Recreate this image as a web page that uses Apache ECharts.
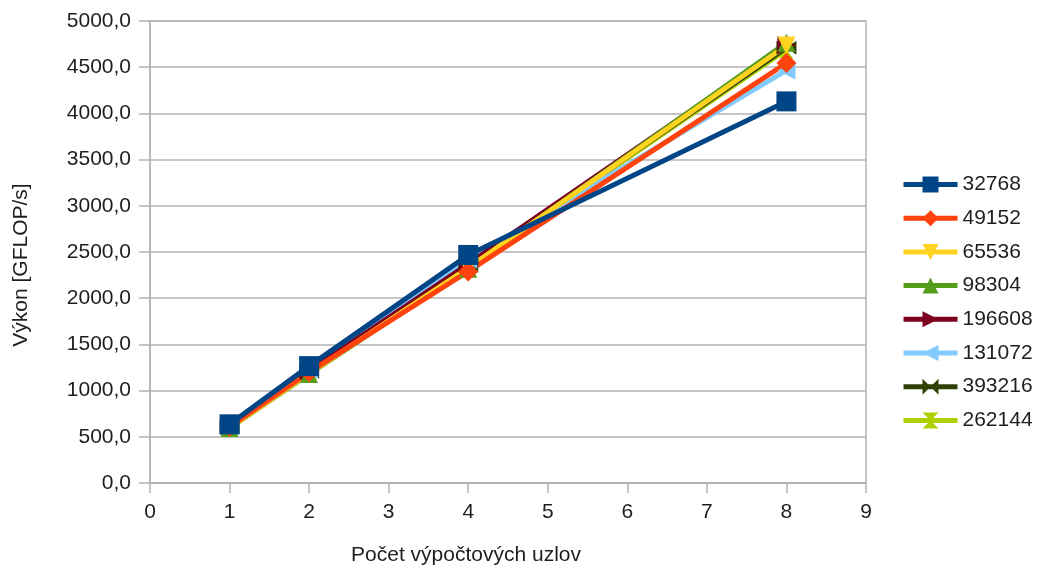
<!DOCTYPE html>
<html>
<head>
<meta charset="utf-8">
<script src="https://cdn.jsdelivr.net/npm/echarts@6/dist/echarts.min.js"></script>
<style>html,body{margin:0;padding:0;background:#fff}#c{width:1043px;height:571px}</style>
</head>
<body>
<div id="c"></div>
<script>
var xValues = [1, 2, 4, 8];
var seriesNames = ['32768', '49152', '65536', '98304', '196608', '131072', '393216', '262144'];
var s32768  = [635, 1265, 2468, 4130];
var s49152  = [610, 1200, 2290, 4545];
var s65536  = [600, 1185, 2330, 4735];
var s98304  = [595, 1180, 2320, 4765];
var s196608 = [615, 1210, 2370, 4740];
var s131072 = [620, 1230, 2420, 4465];
var s393216 = [605, 1200, 2350, 4710];
var s262144 = [600, 1180, 2340, 4690];
var yTicks = [0, 500, 1000, 1500, 2000, 2500, 3000, 3500, 4000, 4500, 5000];
var xTicks = [0, 1, 2, 3, 4, 5, 6, 7, 8, 9];

var values = [s32768, s49152, s65536, s98304, s196608, s131072, s393216, s262144];
var colors = ['#004586', '#ff420e', '#ffd320', '#579d1c', '#7e0021', '#83caff', '#314004', '#aecf00'];
var symbols = ['rect', 'diamond', 'triangle', 'triangle', 'triangle', 'triangle',
  'path://M0,0L10,5L0,10Z M20,0L10,5L20,10Z',
  'path://M0,0L10,0L5,5Z M0,10L10,10L5,5Z'];
var rotates = [0, 0, 180, 0, -90, 90, 0, 0];
var sizes = [20, 20, 18, 18, 18, 18, [20, 14], [14, 18]];

var series = [];
for (var i = seriesNames.length - 1; i >= 0; i--) {
  series.push({
    name: seriesNames[i],
    type: 'line',
    data: xValues.map(function (x, j) { return [x, values[i][j]]; }),
    symbol: symbols[i],
    symbolRotate: rotates[i],
    symbolSize: sizes[i],
    showAllSymbol: true,
    color: colors[i],
    lineStyle: { width: 5, color: colors[i] },
    itemStyle: { color: colors[i] },
    emphasis: { disabled: true },
    animation: false
  });
}

var font = 'Liberation Sans';
var tc = '#1e1e1e';
var chart = echarts.init(document.getElementById('c'));
chart.setOption({
  animation: false,
  backgroundColor: '#ffffff',
  grid: { left: 150, right: 177, top: 21, bottom: 84, show: true, borderColor: '#b3b3b3', borderWidth: 1.5 },
  legend: {
    data: seriesNames,
    orient: 'vertical',
    left: 896,
    top: 169,
    itemWidth: 54,
    itemHeight: 20,
    itemGap: 12.7,
    lineStyle: { width: 5 },
    textStyle: { fontFamily: font, fontSize: 21, color: tc }
  },
  xAxis: {
    type: 'value',
    min: 0, max: 9, interval: 1,
    name: 'Počet výpočtových uzlov',
    nameLocation: 'middle',
    nameGap: 62,
    nameTextStyle: { fontFamily: font, fontSize: 21, color: tc, padding: [0, 84, 0, 0] },
    axisLine: { show: true, lineStyle: { color: '#b3b3b3', width: 1.5 } },
    axisTick: { show: true, length: 10, lineStyle: { color: '#b3b3b3', width: 1.5 } },
    axisLabel: { margin: 19, fontFamily: font, fontSize: 21, color: tc,
      formatter: function (v) { return xTicks.indexOf(v) >= 0 ? String(v) : ''; } },
    splitLine: { show: false }
  },
  yAxis: {
    type: 'value',
    min: 0, max: 5000, interval: 500,
    name: 'Výkon [GFLOP/s]',
    nameLocation: 'middle',
    nameGap: 118,
    nameTextStyle: { fontFamily: font, fontSize: 21, color: tc, padding: [0, 26, 0, 0] },
    axisLine: { show: true, lineStyle: { color: '#b3b3b3', width: 1.5 } },
    axisTick: { show: true, length: 11, lineStyle: { color: '#b3b3b3', width: 1.5 } },
    axisLabel: { margin: 19, fontFamily: font, fontSize: 21, color: tc,
      formatter: function (v) { return yTicks.indexOf(v) >= 0 ? v.toFixed(1).replace('.', ',') : ''; } },
    splitLine: { show: true, lineStyle: { color: '#b3b3b3', width: 1.5 } }
  },
  series: series
});
</script>
</body>
</html>
